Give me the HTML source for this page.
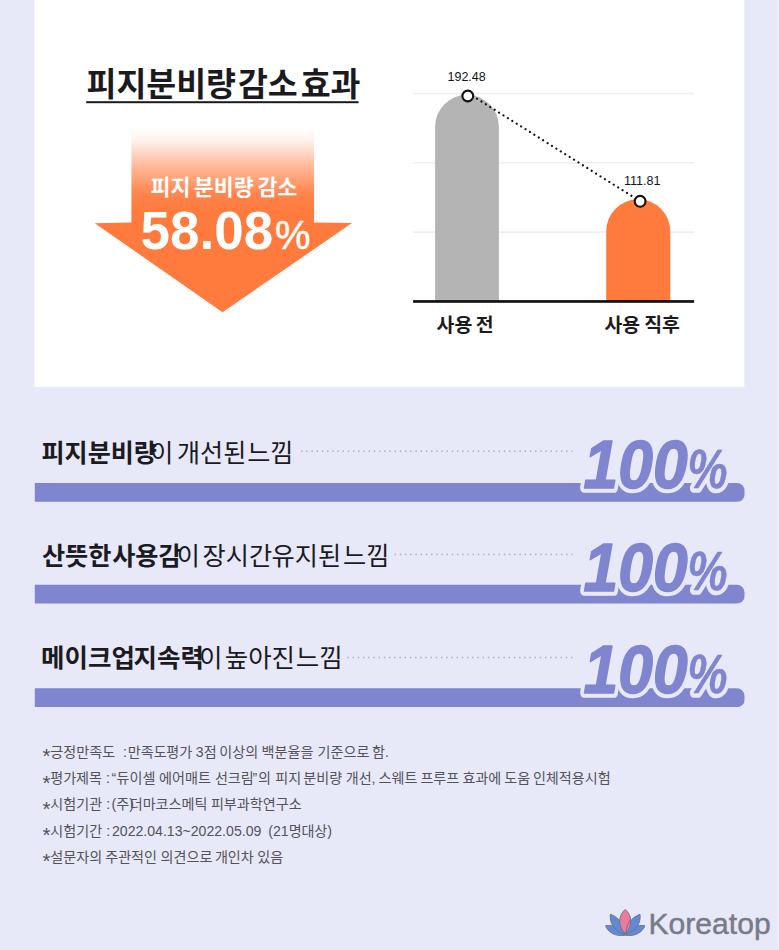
<!DOCTYPE html>
<html lang="ko"><head><meta charset="utf-8"><title>피지분비량 감소 효과</title>
<style>html,body{margin:0;padding:0;background:#E7E8F8;font-family:"Liberation Sans",sans-serif}svg{display:block}</style>
</head><body>
<svg width="779" height="950" viewBox="0 0 779 950">
<defs>
<linearGradient id="ag" x1="0" y1="128" x2="0" y2="222" gradientUnits="userSpaceOnUse">
<stop offset="0" stop-color="#FF7A3D" stop-opacity="0"/>
<stop offset="0.12" stop-color="#FF8A55" stop-opacity="0.10"/>
<stop offset="0.40" stop-color="#FF8149" stop-opacity="0.55"/>
<stop offset="0.70" stop-color="#FF7A3D" stop-opacity="0.92"/>
<stop offset="0.9" stop-color="#FF7A3D" stop-opacity="1"/>
</linearGradient>
</defs>
<rect width="779" height="950" fill="#E7E8F8"/>
<rect x="778" y="0" width="1" height="950" fill="#EEEFFA"/>
<rect x="34.4" y="0" width="710" height="387" fill="#fff"/>
<g font-family="'Liberation Sans', 'Noto Sans CJK KR', sans-serif" font-size="32.5" font-weight="700" fill="#1b1b1f">
<text x="86.5" y="96.25">피지분비량</text>
<text x="237.9" y="96.25">감소</text>
<text x="300.7" y="96.25">효과</text>
</g>
<rect x="86.2" y="101.2" width="272.4" height="2" fill="#1b1b1f"/>
<path d="M131.4 126 H314 V222.6 L352 223 L222.5 312.3 L94.8 223.2 L131.4 222.6 Z" fill="url(#ag)"/>
<g font-family="'Liberation Sans', 'Noto Sans CJK KR', sans-serif" font-size="21.7" font-weight="700" fill="#fff">
<text x="150.5" y="195.26">피지</text>
<text x="193.8" y="195.26">분비량</text>
<text x="257.4" y="195.26">감소</text>
</g>
<text x="140.6" y="248.7" font-family="'Liberation Sans', 'Noto Sans CJK KR', sans-serif" font-size="54.1" font-weight="700" fill="#fff" textLength="132.5" lengthAdjust="spacingAndGlyphs">58.08</text>
<text x="275" y="248.72" font-family="'Liberation Sans', 'Noto Sans CJK KR', sans-serif" font-size="39.9" font-weight="400" fill="#fff" stroke="#fff" stroke-width="0.45">%</text>
<rect x="413.1" y="92.7" width="281" height="1.6" fill="#EEEEEE"/>
<rect x="413.1" y="162.0" width="281" height="1.6" fill="#EEEEEE"/>
<rect x="413.1" y="231.29999999999998" width="281" height="1.6" fill="#EEEEEE"/>
<path d="M435.1 301 V126.7 A31.9 31.9 0 0 1 498.9 126.7 V301 Z" fill="#B4B4B4"/>
<path d="M606.2 301 V231.3 A32 32 0 0 1 670.3 231.3 V301 Z" fill="#FF7A3D"/>
<rect x="413.1" y="300.1" width="281" height="2.7" fill="#111"/>
<line x1="467.8" y1="92.9" x2="640.1" y2="201.2" stroke="#111" stroke-width="2.2" stroke-dasharray="0.01 5.2" stroke-dashoffset="-0.46" stroke-linecap="round"/>
<circle cx="467.8" cy="96" r="5.4" fill="#fff" stroke="#111" stroke-width="2.1"/>
<circle cx="640.1" cy="201.3" r="5.4" fill="#fff" stroke="#111" stroke-width="2.1"/>
<text x="447.5" y="81.18" font-family="'Liberation Sans', 'Noto Sans CJK KR', sans-serif" font-size="12.5" fill="#151515">192.48</text>
<text x="623.9" y="184.87" font-family="'Liberation Sans', 'Noto Sans CJK KR', sans-serif" font-size="12.6" fill="#151515">111.81</text>
<g font-family="'Liberation Sans', 'Noto Sans CJK KR', sans-serif" font-size="19.4" font-weight="700" fill="#1b1b1f">
<text x="436.6" y="332.47">사용</text>
<text x="475.8" y="332.47">전</text>
<text x="604.5" y="332.47">사용</text>
<text x="644.2" y="332.47">직후</text>
</g>
<g font-family="'Liberation Sans', 'Noto Sans CJK KR', sans-serif" font-size="25.1" fill="#1b1b1f">
<text x="41.5" y="461.54" font-weight="700">피지분비량</text>
<text x="150.2" y="461.54">이</text>
<text x="177" y="461.54">개선된</text>
<text x="247.2" y="461.54">느낌</text>
</g>
<line x1="301" y1="451.2" x2="572.5" y2="451.2" stroke="#ABABBA" stroke-width="1.5" stroke-dasharray="1.4 3.8"/>
<path d="M34.8 483.1 H737 A7.5 7.5 0 0 1 744.5 490.6 V494.8 A7 7 0 0 1 737.5 501.8 H34.8 Z" fill="#7F85CF"/>
<g font-family="'Liberation Sans', sans-serif" font-weight="700" font-style="italic" stroke-linejoin="round">
<text x="583.6" y="488.42" font-size="68.8" fill="#E7E8F8" stroke="#E7E8F8" stroke-width="9.6" textLength="104" lengthAdjust="spacingAndGlyphs">100</text>
<text x="687.5" y="488.11" font-size="54.7" fill="#E7E8F8" stroke="#E7E8F8" stroke-width="9.6" textLength="40" lengthAdjust="spacingAndGlyphs">%</text>
<text x="583.6" y="488.42" font-size="68.8" fill="#7F85CF" stroke="#7F85CF" stroke-width="1.5" textLength="104" lengthAdjust="spacingAndGlyphs">100</text>
<text x="687.5" y="488.11" font-size="54.7" fill="#7F85CF" stroke="#7F85CF" stroke-width="0.5" textLength="40" lengthAdjust="spacingAndGlyphs">%</text>
</g>
<g font-family="'Liberation Sans', 'Noto Sans CJK KR', sans-serif" font-size="25.2" fill="#1b1b1f">
<text x="41.9" y="564.55" font-weight="700">산뜻한</text>
<text x="112.2" y="564.55" font-weight="700">사용감</text>
<text x="176.8" y="564.55">이</text>
<text x="202.6" y="564.55">장시간</text>
<text x="271.6" y="564.55">유지된</text>
<text x="343.1" y="564.55">느낌</text>
</g>
<line x1="394.6" y1="554.4" x2="572.5" y2="554.4" stroke="#ABABBA" stroke-width="1.5" stroke-dasharray="1.4 3.8"/>
<path d="M34.8 584.7 H737 A7.5 7.5 0 0 1 744.5 592.2 V596.4 A7 7 0 0 1 737.5 603.4 H34.8 Z" fill="#7F85CF"/>
<g font-family="'Liberation Sans', sans-serif" font-weight="700" font-style="italic" stroke-linejoin="round">
<text x="583.6" y="590.72" font-size="68.8" fill="#E7E8F8" stroke="#E7E8F8" stroke-width="9.6" textLength="104" lengthAdjust="spacingAndGlyphs">100</text>
<text x="687.5" y="590.41" font-size="54.7" fill="#E7E8F8" stroke="#E7E8F8" stroke-width="9.6" textLength="40" lengthAdjust="spacingAndGlyphs">%</text>
<text x="583.6" y="590.72" font-size="68.8" fill="#7F85CF" stroke="#7F85CF" stroke-width="1.5" textLength="104" lengthAdjust="spacingAndGlyphs">100</text>
<text x="687.5" y="590.41" font-size="54.7" fill="#7F85CF" stroke="#7F85CF" stroke-width="0.5" textLength="40" lengthAdjust="spacingAndGlyphs">%</text>
</g>
<g font-family="'Liberation Sans', 'Noto Sans CJK KR', sans-serif" font-size="25.5" fill="#1b1b1f">
<text x="41.1" y="667.4" font-weight="700">메이크업</text>
<text x="133.5" y="667.4" font-weight="700">지속력</text>
<text x="198.9" y="667.4">이</text>
<text x="224.7" y="667.4">높아진</text>
<text x="295.8" y="667.4">느낌</text>
</g>
<line x1="347.4" y1="657.4" x2="572.5" y2="657.4" stroke="#ABABBA" stroke-width="1.5" stroke-dasharray="1.4 3.8"/>
<path d="M34.8 688.3 H737 A7.5 7.5 0 0 1 744.5 695.8 V700 A7 7 0 0 1 737.5 707 H34.8 Z" fill="#7F85CF"/>
<g font-family="'Liberation Sans', sans-serif" font-weight="700" font-style="italic" stroke-linejoin="round">
<text x="583.6" y="693.42" font-size="68.8" fill="#E7E8F8" stroke="#E7E8F8" stroke-width="9.6" textLength="104" lengthAdjust="spacingAndGlyphs">100</text>
<text x="687.5" y="693.11" font-size="54.7" fill="#E7E8F8" stroke="#E7E8F8" stroke-width="9.6" textLength="40" lengthAdjust="spacingAndGlyphs">%</text>
<text x="583.6" y="693.42" font-size="68.8" fill="#7F85CF" stroke="#7F85CF" stroke-width="1.5" textLength="104" lengthAdjust="spacingAndGlyphs">100</text>
<text x="687.5" y="693.11" font-size="54.7" fill="#7F85CF" stroke="#7F85CF" stroke-width="0.5" textLength="40" lengthAdjust="spacingAndGlyphs">%</text>
</g>
<g font-family="'Liberation Sans', 'Noto Sans CJK KR', sans-serif" font-size="14.1" fill="#535359">
<text x="42.5" y="763.3" font-size="20.4">*</text>
<text y="757"><tspan x="50.3">긍정만족도</tspan><tspan x="119"> :</tspan><tspan x="123.8"> 만족도</tspan><tspan x="166.2">평가</tspan><tspan x="195.8">3점</tspan><tspan x="219.3">이상의</tspan><tspan x="261.6">백분율을</tspan><tspan x="317.5">기준으로</tspan><tspan x="372">함.</tspan></text>
<text x="42.5" y="789.5" font-size="20.4">*</text>
<text y="783.2"><tspan x="50.2">평가제목</tspan><tspan x="105.9">:</tspan><tspan x="111.5">“</tspan><tspan x="116.5">듀이셀</tspan><tspan x="159">에어매트</tspan><tspan x="214.9">선크림</tspan><tspan x="252.4">”</tspan><tspan x="258">의</tspan><tspan x="275.2">피지</tspan><tspan x="303.3">분비량</tspan><tspan x="345.7">개선,</tspan><tspan x="378.6">스웨트</tspan><tspan x="420.4">프루프</tspan><tspan x="462.4">효과에</tspan><tspan x="504.3">도움</tspan><tspan x="532.9">인체적용시험</tspan></text>
<text x="42.5" y="815.7" font-size="20.4">*</text>
<text y="809.4"><tspan x="50.3">시험기관</tspan><tspan x="106.3">:</tspan><tspan x="111.5">(주)</tspan><tspan x="129.7">더마코스메틱</tspan><tspan x="210.9">피부과학연구소</tspan></text>
<text x="42.5" y="841.9" font-size="20.4">*</text>
<text y="835.6"><tspan x="50.3">시험기간</tspan><tspan x="106.3">:</tspan><tspan x="112">2022.04.13~2022.05.09</tspan><tspan x="268.3">(21명</tspan><tspan x="301.4">대상)</tspan></text>
<text x="42.5" y="868.1" font-size="20.4">*</text>
<text y="861.8"><tspan x="50.3">설문자의</tspan><tspan x="105.2">주관적인</tspan><tspan x="160.5">의견으로</tspan><tspan x="214.9">개인차</tspan><tspan x="257.2">있음</tspan></text>
</g>
<text x="648.5" y="934.2" font-family="'Liberation Sans', sans-serif" font-size="30.1" fill="#777A87" stroke="#777A87" stroke-width="0.45">Koreatop</text>
<g stroke="#68708F" stroke-width="0.9" stroke-linejoin="round">
<path d="M605.5 925.8 C608 932.6 616 937 625.2 935.2 C621.5 928.4 613 924.2 605.5 925.8 Z" fill="#628AD2"/>
<path d="M 644.9 925.8 C 642.4 932.6 634.4 937 625.2 935.2 C 628.9 928.4 637.4 924.2 644.9 925.8 Z" fill="#628AD2"/>
<path d="M610.4 914.3 C609.3 922.5 613.5 930.8 624.6 934.3 C624.8 926 619.5 917.3 610.4 914.3 Z" fill="#628AD2"/>
<path d="M 640 914.3 C 641.1 922.5 636.9 930.8 625.8 934.3 C 625.6 926 630.9 917.3 640 914.3 Z" fill="#628AD2"/>
<path d="M625.2 909.4 C632.6 915.5 632.6 927 625.2 933.6 C617.8 927 617.8 915.5 625.2 909.4Z" fill="#EA7B9B"/>
<path d="M625.9 933.8 C626 928 627.8 923.3 630.3 920.2" fill="none"/>
</g>
</svg>
</body></html>
